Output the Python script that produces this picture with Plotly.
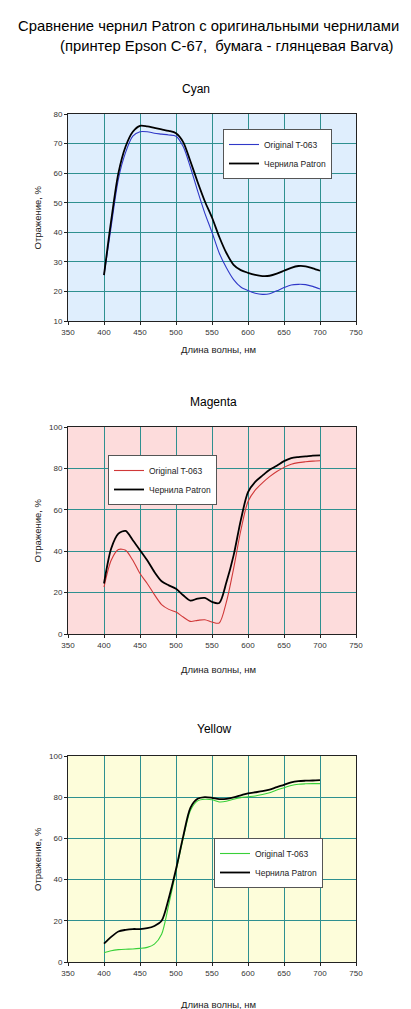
import plotly.graph_objects as go

W, H = 411, 1009

wavelength = [400, 410, 420, 430, 440, 450, 460, 470, 480, 490, 500,
              510, 520, 530, 540, 550, 560, 570, 580, 590, 600,
              610, 620, 630, 640, 650, 660, 670, 680, 690, 700]

cyan_original = [25.5, 42, 58, 67, 72.5, 74, 74, 73.5, 73.2, 72.9, 72.5,
                 69, 62, 54, 46.5, 40, 33, 28, 24, 21.5, 20.3,
                 19.4, 19, 19.2, 20.2, 21.3, 22.2, 22.4, 22.3, 21.7, 20.8]
cyan_patron = [25.5, 44, 60, 69, 74, 76, 75.8, 75.3, 74.8, 74.3, 73.5,
               70.5, 64, 57, 50.5, 45, 38.5, 33, 29, 27.2, 26.3,
               25.6, 25.2, 25.3, 26, 27, 28, 28.6, 28.5, 27.8, 27]

magenta_original = [22.7, 35.6, 40.8, 40.5, 35.6, 29.2, 24.4, 19, 14.2, 11.9, 10.6,
                    8.2, 6.1, 6.6, 6.9, 5.8, 5.3, 15.5, 31.6, 50, 64,
                    69.5, 73, 76, 78.5, 80.5, 82, 82.8, 83.2, 83.5, 83.7]
magenta_patron = [24.4, 41.3, 48.5, 49.8, 45.3, 40.5, 35.6, 30, 25.5, 23.5, 21.9,
                  18.7, 16.1, 17.1, 17.4, 15.5, 15, 25, 38, 55, 68.5,
                  73.5, 76.5, 79.3, 81.3, 83.5, 85, 85.5, 85.8, 86.2, 86.3]

yellow_original = [4.5, 5.5, 6.0, 6.2, 6.3, 6.6, 7.1, 8.7, 13.5, 28, 44,
                   60, 73.5, 78.2, 79, 78.8, 77.7, 78, 79, 79.8, 80.2,
                   80.6, 81.3, 82.2, 83.5, 84.6, 85.7, 86.3, 86.5, 86.6, 86.6]
yellow_patron = [8.9, 12.2, 14.8, 15.6, 16, 16, 16.4, 17.5, 20, 31, 45,
                 61, 74.8, 79.2, 80, 79.7, 79.1, 79.2, 79.9, 80.9, 81.9,
                 82.4, 82.9, 83.7, 84.9, 86, 87.2, 87.8, 88, 88.1, 88.3]

series_names = ["Original T-063", "Чернила Patron"]
panel_titles = ["Cyan", "Magenta", "Yellow"]
main_title_1 = "Сравнение чернил Patron с оригинальными чернилами"
main_title_2 = "(принтер Epson C-67,  бумага - глянцевая Barva)"
x_title = "Длина волны, нм"
y_title = "Отражение, %"

FONT = "Liberation Sans, Arial, sans-serif"

def px_x(p):
    return p / W

def px_y(p):
    return 1 - p / H

panels = [
    dict(orig=cyan_original, pat=cyan_patron, ocolor="#3038C8", bg="#DFEEFD",
         top=106, bottom=313, yr=[10, 80], dt=10, leg=(215, 121),
         tx=188, ty=81, xty=341),
    dict(orig=magenta_original, pat=magenta_patron, ocolor="#D03838", bg="#FDDCDC",
         top=419, bottom=626, yr=[0, 100], dt=20, leg=(100, 447),
         tx=205, ty=394, xty=661),
    dict(orig=yellow_original, pat=yellow_patron, ocolor="#38D038", bg="#FDFDDA",
         top=748, bottom=954, yr=[0, 100], dt=20, leg=(206, 830),
         tx=206, ty=721, xty=996),
]

fig = go.Figure()
annotations = []
shapes = []
left, right = 60, 348

for i, p in enumerate(panels):
    n = "" if i == 0 else str(i + 1)
    xa, ya = "x" + n, "y" + n
    legname = "legend" + n
    fig.add_trace(go.Scatter(x=wavelength, y=p["orig"], mode="lines", name=series_names[0],
                             line=dict(color=p["ocolor"], width=1.1, shape="spline", smoothing=0.8),
                             xaxis=xa, yaxis=ya, legend=legname, hoverinfo="skip"))
    fig.add_trace(go.Scatter(x=wavelength, y=p["pat"], mode="lines", name=series_names[1],
                             line=dict(color="black", width=1.8, shape="spline", smoothing=0.8),
                             xaxis=xa, yaxis=ya, legend=legname, hoverinfo="skip"))
    axis_common = dict(showline=True, linecolor="#222222", linewidth=1, mirror=True,
                       ticks="outside", ticklen=3, tickcolor="#222222",
                       showgrid=True, gridcolor="#2E9090", gridwidth=1,
                       zeroline=False, tickfont=dict(family=FONT, size=8, color="#333333"),
                       fixedrange=True)
    fig.update_layout({
        "xaxis" + n: dict(domain=[px_x(left), px_x(right)], range=[350, 750], dtick=50,
                          tick0=350, anchor=ya, **axis_common),
        "yaxis" + n: dict(domain=[px_y(p["bottom"]), px_y(p["top"])], range=p["yr"],
                          dtick=p["dt"], anchor=xa, **axis_common),
        legname: dict(x=px_x(p["leg"][0]), y=px_y(p["leg"][1]), xanchor="left", yanchor="top",
                      bgcolor="white", bordercolor="#555555", borderwidth=1,
                      font=dict(family=FONT, size=8.5, color="#222222"),
                      tracegroupgap=0, itemwidth=30),
    })
    shapes.append(dict(type="rect", xref=xa + " domain", yref=ya + " domain",
                       x0=0, x1=1, y0=0, y1=1, fillcolor=p["bg"], line=dict(width=0),
                       layer="below"))
    annotations.append(dict(text=panel_titles[i], x=px_x(p["tx"]), y=px_y(p["ty"]),
                            xref="paper", yref="paper", showarrow=False,
                            xanchor="center", yanchor="middle",
                            font=dict(family=FONT, size=12, color="black")))
    annotations.append(dict(text=x_title, x=px_x(210), y=px_y(p["xty"]),
                            xref="paper", yref="paper", showarrow=False,
                            xanchor="center", yanchor="middle",
                            font=dict(family=FONT, size=9.5, color="#222222")))
    annotations.append(dict(text=y_title, x=px_x(29), y=px_y((p["top"] + p["bottom"]) / 2),
                            xref="paper", yref="paper", showarrow=False, textangle=-90,
                            xanchor="center", yanchor="middle",
                            font=dict(family=FONT, size=9.5, color="#222222")))

annotations.append(dict(text=main_title_1, x=px_x(200), y=px_y(18), xref="paper", yref="paper",
                        showarrow=False, xanchor="center", yanchor="middle",
                        font=dict(family=FONT, size=14.8, color="black")))
annotations.append(dict(text=main_title_2, x=px_x(219), y=px_y(38), xref="paper", yref="paper",
                        showarrow=False, xanchor="center", yanchor="middle",
                        font=dict(family=FONT, size=14.8, color="black")))

fig.update_layout(width=W, height=H, margin=dict(l=0, r=0, t=0, b=0, autoexpand=False),
                  paper_bgcolor="white", plot_bgcolor="white",
                  annotations=annotations, shapes=shapes, showlegend=True)

fig.write_html("out.html", config={"displayModeBar": False})
